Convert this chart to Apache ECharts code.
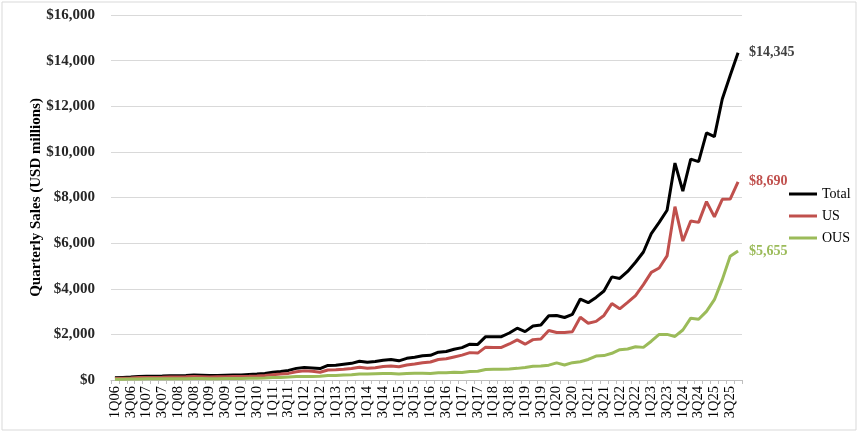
<!DOCTYPE html>
<html>
<head>
<meta charset="utf-8">
<script src="https://cdn.jsdelivr.net/npm/echarts@6/dist/echarts.min.js"></script>
<style>
  html, body { margin: 0; padding: 0; background: #fff; }
  #chart { width: 860px; height: 436px; }
</style>
</head>
<body>
<div id="chart"></div>
<script>
// quarters, 1Q06 .. 4Q25
const quarters = [
    '1Q06','2Q06','3Q06','4Q06','1Q07','2Q07','3Q07','4Q07',
    '1Q08','2Q08','3Q08','4Q08','1Q09','2Q09','3Q09','4Q09',
    '1Q10','2Q10','3Q10','4Q10','1Q11','2Q11','3Q11','4Q11',
    '1Q12','2Q12','3Q12','4Q12','1Q13','2Q13','3Q13','4Q13',
    '1Q14','2Q14','3Q14','4Q14','1Q15','2Q15','3Q15','4Q15',
    '1Q16','2Q16','3Q16','4Q16','1Q17','2Q17','3Q17','4Q17',
    '1Q18','2Q18','3Q18','4Q18','1Q19','2Q19','3Q19','4Q19',
    '1Q20','2Q20','3Q20','4Q20','1Q21','2Q21','3Q21','4Q21',
    '1Q22','2Q22','3Q22','4Q22','1Q23','2Q23','3Q23','4Q23',
    '1Q24','2Q24','3Q24','4Q24','1Q25','2Q25','3Q25','4Q25'
];

// quarterly sales, USD millions
const totalSales = [
    100, 115, 130, 150, 160, 165, 170, 185,
    190, 200, 215, 210, 195, 200, 210, 215,
    220, 240, 260, 290, 340, 370, 420, 510,
    550, 530, 500, 640, 650, 690, 730, 820,
    780, 810, 870, 900, 840, 950, 1000, 1060,
    1080, 1220, 1250, 1350, 1420, 1570, 1560, 1900,
    1900, 1900, 2060, 2270, 2120, 2370, 2410, 2820,
    2830, 2740, 2880, 3550, 3390, 3620, 3900, 4520,
    4450, 4760, 5160, 5610, 6420, 6910, 7440, 9510,
    8280, 9680, 9570, 10830, 10670, 12320, 13350, 14345
];
const usSales = [
    70, 80, 90, 105, 110, 115, 120, 130,
    135, 140, 150, 145, 135, 140, 145, 150,
    155, 165, 180, 200, 235, 260, 290, 360,
    400, 380, 340, 440, 450, 470, 500, 560,
    520, 540, 590, 610, 580, 660, 700, 760,
    790, 900, 930, 1010, 1090, 1200, 1180, 1440,
    1430, 1430, 1580, 1760, 1570, 1770, 1800, 2170,
    2080, 2080, 2120, 2750, 2490, 2570, 2830, 3350,
    3120, 3400, 3700, 4180, 4720, 4910, 5440, 7600,
    6090, 6970, 6910, 7820, 7150, 7920, 7930, 8690
];
const ousSales = [
    30, 35, 40, 45, 50, 50, 50, 55,
    55, 60, 65, 65, 60, 60, 65, 65,
    65, 75, 80, 90, 105, 110, 130, 150,
    150, 150, 160, 200, 200, 220, 230, 260,
    260, 270, 280, 290, 260, 290, 300, 300,
    290, 320, 320, 340, 330, 370, 380, 460,
    470, 470, 480, 510, 550, 600, 610, 650,
    750, 660, 760, 800, 900, 1050, 1070, 1170,
    1330, 1360, 1460, 1430, 1700, 2000, 2000, 1910,
    2190, 2710, 2660, 3010, 3520, 4400, 5420, 5655
];

const FONT = "Georgia, 'Liberation Serif', 'DejaVu Serif', serif";

function money(v) {
    return '$' + Number(v).toLocaleString('en-US');
}

function makeLine(name, data, color, labelColor) {
    return {
        name: name,
        type: 'line',
        data: data,
        symbol: 'none',
        lineStyle: { color: color, width: 3 },
        itemStyle: { color: color },
        endLabel: {
            show: true,
            distance: 11,
            formatter: p => money(p.value),
            color: labelColor,
            fontFamily: FONT,
            fontSize: 14,
            fontWeight: 'bold'
        },
        emphasis: { disabled: true }
    };
}

const chart = echarts.init(document.getElementById('chart'));
const option = {
    animation: false,
    backgroundColor: '#ffffff',
    grid: { left: 111, right: 118, top: 15, bottom: 56 },
    graphic: [{
        type: 'rect',
        shape: { x: 2, y: 2, width: 854, height: 428 },
        style: { fill: 'none', stroke: '#d9d9d9', lineWidth: 1 },
        silent: true
    }],
    legend: {
        orient: 'vertical',
        left: 784,
        top: 182,
        itemWidth: 28,
        itemHeight: 3,
        itemGap: 8,
        icon: 'rect',
        textStyle: { fontFamily: FONT, fontSize: 14, color: '#000' },
        data: ['Total', 'US', 'OUS']
    },
    xAxis: {
        type: 'category',
        data: quarters,
        boundaryGap: true,
        axisLine: { lineStyle: { color: '#bfbfbf', width: 1 } },
        axisTick: { show: true, interval: 0, length: 4, lineStyle: { color: '#bfbfbf' } },
        axisLabel: {
            interval: 1,
            rotate: 90,
            margin: 6,
            fontFamily: FONT,
            fontSize: 14.5,
            color: '#000'
        }
    },
    yAxis: {
        type: 'value',
        min: 0,
        max: 16000,
        interval: 2000,
        name: 'Quarterly Sales (USD millions)',
        nameLocation: 'middle',
        nameGap: 67,
        nameMoveOverlap: false,
        nameTextStyle: { fontFamily: FONT, fontSize: 15, fontWeight: 'bold', color: '#000' },
        axisLine: { show: false },
        axisTick: { show: false },
        splitLine: { lineStyle: { color: '#d9d9d9', width: 1 } },
        axisLabel: {
            margin: 16,
            formatter: v => money(v),
            fontFamily: FONT,
            fontSize: 15,
            fontWeight: 'bold',
            color: '#262626'
        }
    },
    series: [
        makeLine('Total', totalSales, '#000000', '#404040'),
        makeLine('US', usSales, '#c0504d', '#c0504d'),
        makeLine('OUS', ousSales, '#9bbb59', '#9bbb59')
    ]
};
chart.setOption(option);
window.addEventListener('resize', () => chart.resize());
</script>
</body>
</html>
